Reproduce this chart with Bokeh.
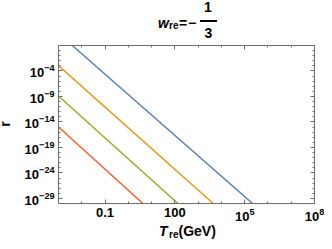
from bokeh.plotting import figure
from bokeh.layouts import column, row
from bokeh.models import LogAxis, FixedTicker, LogTickFormatter, Range1d, Div
from bokeh.embed import file_html
from bokeh.resources import INLINE

# data (line endpoints, T in GeV)
T_blue = [3.9e-3, 2.19e5]
r_blue = [1e1, 1e-30]
T_orange = [1e-3, 4.47e3]
r_orange = [1.15e-3, 1e-30]
T_green = [1e-3, 135.0]
r_green = [1.26e-9, 1e-30]
T_red = [1e-3, 4.27]
r_red = [1e-15, 1e-30]

series_T = [T_blue, T_orange, T_green, T_red]
series_r = [r_blue, r_orange, r_green, r_red]
colors = ["#5E81B5", "#E19C24", "#8FB032", "#EB6235"]

x_major = [0.1, 100, 1e5, 1e8]
x_minor = [1e-3, 1e-2, 1, 10, 1e3, 1e4, 1e6, 1e7]
y_major = [1e-29, 1e-24, 1e-19, 1e-14, 1e-9, 1e-4]
y_minor = [10.0 ** e for e in range(-30, 2)]

title_parts = ["w", "re", "=", "\u2212", "1", "3"]
xlabel_parts = ["T", "re", "(GeV)"]
ylabel = "r"

FONT = "Liberation Sans"
FRAME = "#6e6e6e"

W = 324
TITLE_H = 40
MAIN_H = 183
XLAB_H = 18
YLAB_W = 10


def span(x, top, txt, size=14, style="normal", width=None, extra="", lh=None):
    if width:
        extra += f"width:{width}px;text-align:center;"
    lh = size if lh is None else lh
    return (f'<span style="position:absolute;left:{x}px;top:{top}px;{extra}'
            f"font-family:'{FONT}';font-weight:bold;font-style:{style};"
            f'font-size:{size}px;line-height:{lh}px;white-space:nowrap;color:#000;">{txt}</span>')


def box(w, h, inner):
    return (f'<div style="position:relative;width:{w}px;height:{h}px;margin:0;padding:0;text-align:left;">'
            f"{inner}</div>")


A14 = 11.85  # baseline offset below span top for 14px text
A10 = 8.47

title_html = box(W, TITLE_H, "".join([
    span(158, 27.5 - A14, title_parts[0], style="italic"),
    span(169, 29.5 - A10, title_parts[1], size=10),
    span(179, 27.5 - A14, title_parts[2]),
    span(188, 27.5 - A14, title_parts[3]),
    '<div style="position:absolute;left:199.5px;top:20.3px;width:17px;height:1.4px;background:#000;"></div>',
    span(198, 12.0 - A14, title_parts[4], width=20),
    span(198.5, 38.3 - A14, title_parts[5], width=20),
]))
title_div = Div(text=title_html, width=W, height=TITLE_H, margin=0)

ylab_html = box(YLAB_W, MAIN_H, span(1.8, 80, ylabel, lh=8,
                                     extra="transform:rotate(-90deg);transform-origin:50% 50%;"))
ylab_div = Div(text=ylab_html, width=YLAB_W, height=MAIN_H, margin=0)

xlab_html = box(W, XLAB_H, "".join([
    span(159, 13.3 - A14, xlabel_parts[0], style="italic"),
    span(169, 15.5 - A10, xlabel_parts[1], size=10),
    span(178.5, 13.3 - A14, xlabel_parts[2]),
]))
xlab_div = Div(text=xlab_html, width=W, height=XLAB_H, margin=0)

# ---- main plot
p = figure(x_axis_type="log", y_axis_type="log",
           x_range=Range1d(1e-3, 1e8), y_range=Range1d(1e-30, 1e1),
           frame_width=256, frame_height=158,
           min_border_left=48, min_border_right=10,
           min_border_top=5, min_border_bottom=20,
           output_backend="svg", toolbar_location=None)
p.outline_line_color = None
p.grid.visible = False

for T, r, c in zip(series_T, series_r, colors):
    p.line(T, r, line_color=c, line_width=1.5)


def style_axis(ax, ticks, minor, labels=True):
    ax.ticker = FixedTicker(ticks=ticks, minor_ticks=minor)
    ax.axis_line_color = FRAME
    ax.major_tick_line_color = FRAME
    ax.minor_tick_line_color = FRAME
    ax.major_tick_in = 4
    ax.major_tick_out = 0
    ax.minor_tick_in = 2
    ax.minor_tick_out = 0
    if labels:
        ax.major_label_text_font = FONT
        ax.major_label_text_font_style = "bold"
        ax.major_label_text_font_size = "13px"
        ax.major_label_text_color = "black"
    else:
        ax.major_label_text_font_size = "0px"
        ax.major_label_text_color = None
        ax.major_label_standoff = 0


style_axis(p.xaxis[0], x_major, x_minor)
p.xaxis[0].formatter = LogTickFormatter(min_exponent=3)
p.xaxis[0].major_label_standoff = 4
style_axis(p.yaxis[0], y_major, y_minor)
p.yaxis[0].formatter = LogTickFormatter()
p.yaxis[0].major_label_standoff = 4

top = LogAxis()
style_axis(top, x_major, x_minor, labels=False)
p.add_layout(top, "above")
right = LogAxis()
style_axis(right, y_major, y_minor, labels=False)
p.add_layout(right, "right")

layout = column(title_div, row(ylab_div, p, spacing=0), xlab_div, spacing=0)
open("out.html", "w").write(file_html(layout, INLINE))
